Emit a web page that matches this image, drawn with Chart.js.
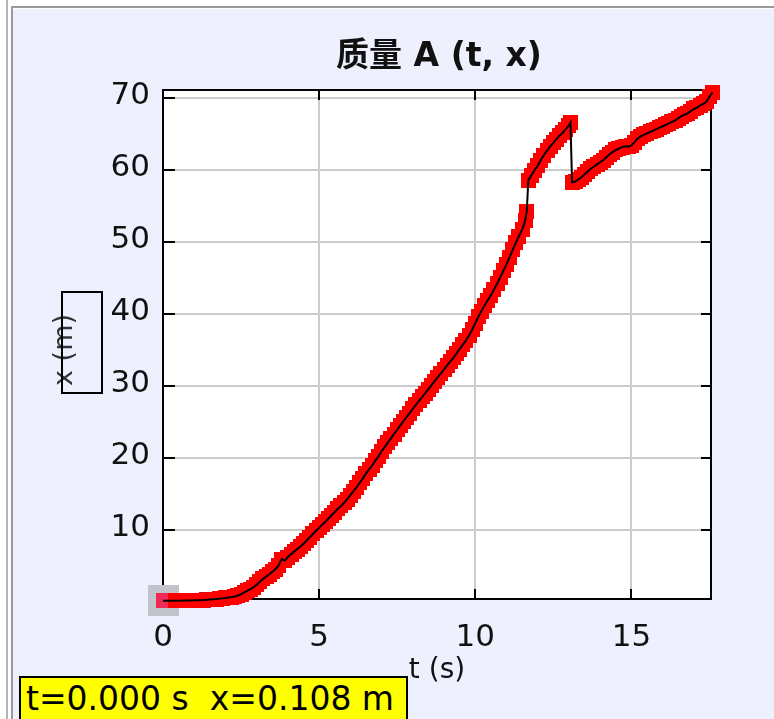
<!DOCTYPE html>
<html>
<head>
<meta charset="utf-8">
<script src="https://cdn.jsdelivr.net/npm/chart.js@4.4.1/dist/chart.umd.min.js"></script>
<style>
  html, body { margin: 0; padding: 0; background: #ffffff; }
  body { width: 774px; height: 719px; position: relative; overflow: hidden; }
  #outerLine { position: absolute; left: 6px; top: 0; width: 2px; height: 719px; background: #b4b4b4; }
  #innerLine { position: absolute; left: 11px; top: 6px; width: 2px; height: 713px; background: #9a9a9a; }
  #topLine { position: absolute; left: 11px; top: 6px; width: 763px; height: 2px; background: #9a9a9a; }
  #panel { position: absolute; left: 13px; top: 9px; width: 761px; height: 710px; background: #eef0fd; }
  #c { position: absolute; left: 0; top: 0; }
  #readout { position: absolute; left: 19px; top: 676px; width: 389px; height: 46px;
             background: #ffff00; border: 2px solid #000; box-sizing: border-box;
             font: 33px "DejaVu Sans", sans-serif; color: #000; white-space: pre;
             line-height: 42px; padding-left: 5px; }
</style>
</head>
<body>
<div id="outerLine"></div>
<div id="panel"></div>
<div id="innerLine"></div>
<div id="topLine"></div>
<canvas id="c" width="774" height="719"></canvas>
<div id="readout">t=0.000 s  x=0.108 m</div>
<script>
// ---- data ----
const tValues = [0.0,0.1,0.2,0.3,0.4,0.5,0.6,0.7,0.8,0.9,
  1.0,1.1,1.2,1.3,1.4,1.5,1.6,1.7,1.8,1.9,
  2.0,2.1,2.2,2.3,2.4,2.5,2.6,2.7,2.8,2.9,
  3.0,3.1,3.2,3.3,3.4,3.5,3.6,3.7,3.8,3.9,
  4.0,4.1,4.2,4.3,4.4,4.5,4.6,4.7,4.8,4.9,
  5.0,5.1,5.2,5.3,5.4,5.5,5.6,5.7,5.8,5.9,
  6.0,6.1,6.2,6.3,6.4,6.5,6.6,6.7,6.8,6.9,
  7.0,7.1,7.2,7.3,7.4,7.5,7.6,7.7,7.8,7.9,
  8.0,8.1,8.2,8.3,8.4,8.5,8.6,8.7,8.8,8.9,
  9.0,9.1,9.2,9.3,9.4,9.5,9.6,9.7,9.8,9.9,
  10.0,10.1,10.2,10.3,10.4,10.5,10.6,10.7,10.8,10.9,
  11.0,11.1,11.2,11.3,11.4,11.5,11.6,11.65,11.7,11.8,11.9,
  12.0,12.1,12.2,12.3,12.4,12.5,12.6,12.7,12.8,12.9,
  13.0,13.05,13.1,13.2,13.3,13.4,13.5,13.6,13.7,13.8,13.9,
  14.0,14.1,14.2,14.3,14.4,14.5,14.6,14.7,14.8,14.9,
  15.0,15.1,15.2,15.3,15.4,15.5,15.6,15.7,15.8,15.9,
  16.0,16.1,16.2,16.3,16.4,16.5,16.6,16.7,16.8,16.9,
  17.0,17.1,17.2,17.3,17.4,17.5,17.6];
const xValues = [0.108,0.11,0.11,0.12,0.12,0.13,0.13,0.14,0.15,0.16,
  0.17,0.18,0.20,0.22,0.25,0.30,0.33,0.36,0.40,0.45,
  0.50,0.56,0.62,0.72,0.85,1.05,1.28,1.50,1.72,2.00,
  2.35,2.75,3.15,3.45,3.80,4.15,4.50,5.00,5.90,5.70,
  6.20,6.60,6.95,7.30,7.65,8.05,8.50,8.95,9.40,9.85,
  10.25,10.70,11.10,11.55,12.00,12.45,12.90,13.30,13.75,14.25,
  14.80,15.35,15.90,16.50,17.10,17.80,18.40,18.95,19.60,20.20,
  20.90,21.50,22.10,22.70,23.30,23.90,24.50,25.10,25.65,26.20,
  26.80,27.35,27.90,28.45,29.00,29.55,30.10,30.65,31.20,31.75,
  32.30,32.85,33.40,33.90,34.50,35.10,35.70,36.30,37.00,37.80,
  38.70,39.60,40.40,41.20,41.90,42.60,43.40,44.20,45.10,46.00,
  46.90,47.90,48.90,49.90,50.80,51.70,53.00,54.30,58.60,59.30,60.00,
  60.60,61.40,62.10,62.70,63.30,63.80,64.30,64.80,65.20,65.70,
  66.20,66.60,58.30,58.40,58.70,59.00,59.40,59.80,60.20,60.50,60.80,
  61.10,61.40,61.80,62.20,62.50,62.80,63.00,63.20,63.30,63.30,
  63.40,63.90,64.40,64.70,64.90,65.10,65.30,65.50,65.70,65.90,
  66.10,66.30,66.50,66.70,66.90,67.20,67.50,67.70,67.90,68.20,
  68.50,68.70,69.00,69.20,69.50,70.20,70.80];
const xTickValues = [0, 5, 10, 15];
const yTickValues = [10, 20, 30, 40, 50, 60, 70];
const titleText = '质量 A (t, x)';
const xAxisTitle = 't (s)';
const yAxisTitle = 'x (m)';
const cursorIndex = 0;

const points = tValues.map((t, i) => ({ x: t, y: xValues[i] }));
const FONT = '"DejaVu Sans", "Noto Sans CJK SC", sans-serif';

function squareSprite(size, color) {
  const cv = document.createElement('canvas');
  cv.width = size; cv.height = size;
  const g = cv.getContext('2d');
  g.fillStyle = color;
  g.fillRect(0, 0, size, size);
  return cv;
}
const redMark = squareSprite(15, '#ff0000');
const pinkMark = squareSprite(15, '#ee2a55');
const cursorMark = squareSprite(31, '#c3c3cb');

const framePlugin = {
  id: 'frame',
  beforeDraw(chart) {
    const { ctx, chartArea: a } = chart;
    ctx.save();
    ctx.fillStyle = '#ffffff';
    ctx.fillRect(a.left, a.top, a.right - a.left, a.bottom - a.top);
    ctx.restore();
  },
  beforeDatasetsDraw(chart) {
    const { ctx, chartArea: a, scales } = chart;
    ctx.save();
    ctx.strokeStyle = '#000';
    ctx.lineWidth = 2;
    ctx.strokeRect(a.left, a.top, a.right - a.left, a.bottom - a.top);
    ctx.beginPath();
    xTickValues.forEach(v => {
      if (v === scales.x.min) return;
      const px = Math.round(scales.x.getPixelForValue(v));
      ctx.moveTo(px, a.bottom); ctx.lineTo(px, a.bottom - 10);
      ctx.moveTo(px, a.top); ctx.lineTo(px, a.top + 10);
    });
    yTickValues.forEach(v => {
      const py = Math.round(scales.y.getPixelForValue(v));
      ctx.moveTo(a.left, py); ctx.lineTo(a.left + 12, py);
      ctx.moveTo(a.right, py); ctx.lineTo(a.right - 10, py);
    });
    ctx.stroke();
    ctx.restore();
  },
  afterDraw(chart) {
    const { ctx, chartArea: a } = chart;
    ctx.save();
    ctx.fillStyle = '#111';
    ctx.textAlign = 'center';
    ctx.textBaseline = 'middle';
    ctx.font = 'bold 33px ' + FONT;
    ctx.fillText(titleText, (a.left + a.right) / 2 + 2, 57);
    ctx.font = '28px ' + FONT;
    ctx.fillText(xAxisTitle, (a.left + a.right) / 2, 671);
    ctx.save();
    ctx.translate(65, 350);
    ctx.rotate(-Math.PI / 2);
    ctx.fillStyle = '#333';
    ctx.font = '27px ' + FONT;
    ctx.fillText(yAxisTitle, 0, 0);
    ctx.restore();
    ctx.strokeStyle = '#000';
    ctx.lineWidth = 2;
    ctx.strokeRect(62, 292, 40, 101);
    ctx.restore();
  }
};

new Chart(document.getElementById('c'), {
  type: 'scatter',
  data: {
    datasets: [
      { label: 'line', data: points, showLine: true, borderColor: '#000', borderWidth: 2,
        pointRadius: 0, pointHoverRadius: 0, tension: 0, order: 0, clip: false },
      { label: 'marks', data: points, showLine: false, pointRadius: 7.5, pointHoverRadius: 7.5,
        borderWidth: 0,
        pointStyle: c => (c.dataIndex <= cursorIndex + 3 ? pinkMark : redMark),
        order: 1, clip: false },
      { label: 'cursor', data: [points[cursorIndex]], showLine: false, pointRadius: 16,
        pointHoverRadius: 16, borderWidth: 0, pointStyle: cursorMark,
        order: 2, clip: false }
    ]
  },
  options: {
    responsive: false,
    animation: false,
    devicePixelRatio: 1,
    events: [],
    layout: { padding: { top: 90, right: 63, left: 0, bottom: 0 } },
    plugins: { legend: { display: false }, tooltip: { enabled: false }, title: { display: false } },
    scales: {
      x: {
        type: 'linear', min: 0, max: 17.55,
        afterFit(s) { s.height = 120; },
        afterBuildTicks(s) { s.ticks = xTickValues.map(v => ({ value: v })); },
        grid: { color: '#cccccc', lineWidth: 2, drawTicks: false },
        border: { display: false },
        ticks: { padding: 20, color: '#111', font: { family: FONT, size: 31 },
                 maxRotation: 0, autoSkip: false, callback: v => String(v) }
      },
      y: {
        type: 'linear', min: 0.36, max: 71.14,
        afterFit(s) { s.width = 163; },
        afterBuildTicks(s) { s.ticks = yTickValues.map(v => ({ value: v })); },
        grid: { color: '#cccccc', lineWidth: 2, drawTicks: false },
        border: { display: false },
        ticks: { padding: 13, color: '#111', font: { family: FONT, size: 31 },
                 labelOffset: -2, autoSkip: false, callback: v => String(v) }
      }
    }
  },
  plugins: [framePlugin]
});
</script>
</body>
</html>
